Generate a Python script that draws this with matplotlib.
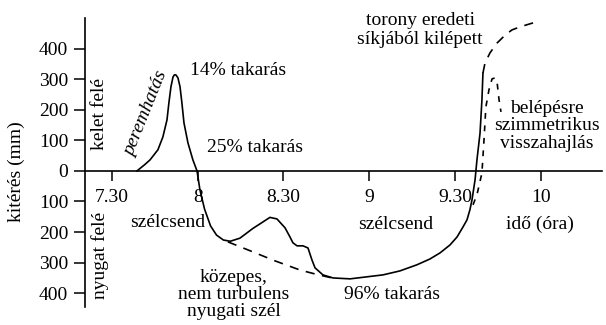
import numpy as np
import matplotlib
matplotlib.use("Agg")
import matplotlib.pyplot as plt
from matplotlib.ticker import FixedLocator, FixedFormatter

plt.rcParams["font.family"] = ["Liberation Serif", "DejaVu Serif"]
plt.rcParams["font.size"] = 14

# tower deflection, time in decimal hours, deflection in mm (+ east, - west)
main_t = [7.646, 7.690, 7.722, 7.768, 7.797, 7.821, 7.832, 7.844, 7.856, 7.864, 7.873,
          7.885, 7.897, 7.908, 7.920, 7.943, 7.972, 7.996, 8.013, 8.040, 8.075,
          8.110, 8.150, 8.190, 8.246, 8.322, 8.380, 8.421, 8.462, 8.509, 8.538,
          8.555, 8.579, 8.614, 8.643, 8.666, 8.684, 8.730, 8.789, 8.888, 9.080,
          9.179, 9.278, 9.354, 9.413, 9.471, 9.512, 9.547, 9.570, 9.587, 9.599,
          9.617, 9.628, 9.646, 9.657, 9.663]
main_mm = [0, 20, 36, 69, 111, 167, 222, 275, 307, 314, 314,
           304, 275, 222, 157, 92, 36, 0, -62, -125, -180,
           -210, -226, -230, -220, -188, -167, -152, -157, -186, -216,
           -235, -245, -245, -252, -291, -317, -340, -350, -353, -340,
           -327, -307, -288, -268, -242, -216, -183, -160, -127, -95,
           -29, 36, 124, 232, 320]

# expected path under steady westerly wind
wind_t = [8.176, 8.305, 8.450, 8.596, 8.684, 8.783]
wind_mm = [-232, -261, -294, -324, -337, -350]

# tower leaving its original plane
plane_t = [9.663, 9.675, 9.704, 9.745, 9.792, 9.832, 9.879, 9.955]
plane_mm = [320, 353, 386, 418, 444, 461, 471, 484]

# symmetric bending back after second contact
back_t = [9.605, 9.628, 9.657, 9.669, 9.680, 9.698, 9.716, 9.733, 9.745, 9.757, 9.768]
back_mm = [-111, -78, -7, 101, 209, 265, 301, 304, 291, 232, 193]

x_ticks = [7.5, 8.0, 8.5, 9.0, 9.5, 10.0]
x_labels = ["7.30", "8", "8.30", "9", "9.30", "10"]
y_ticks = [400, 300, 200, 100, 0, -100, -200, -300, -400]
y_labels = ["400", "300", "200", "100", "0", "100", "200", "300", "400"]

fig = plt.figure(figsize=(6.06, 3.25), dpi=100)
ax = fig.add_axes([85 / 606, 18 / 325, 517 / 606, 289 / 325])
ax.set_xlim(7.343, 10.357)
ax.set_ylim(-445, 500)

for side in ("top", "right"):
    ax.spines[side].set_visible(False)
ax.spines["bottom"].set_position(("data", 0))
ax.spines["left"].set_linewidth(1.2)
ax.spines["bottom"].set_linewidth(1.2)

ax.xaxis.set_major_locator(FixedLocator(x_ticks))
ax.xaxis.set_major_formatter(FixedFormatter(x_labels))
ax.yaxis.set_major_locator(FixedLocator(y_ticks))
ax.yaxis.set_major_formatter(FixedFormatter(y_labels))
ax.tick_params(axis="x", direction="out", length=7, width=1.1, pad=6, labelsize=14)
ax.tick_params(axis="y", direction="out", length=8, width=1.1, pad=4, labelsize=14)

lw = 1.2
dash = (5.5, 4.5)
ax.plot(main_t, main_mm, color="black", lw=lw, solid_joinstyle="round")
ax.plot(wind_t, wind_mm, color="black", lw=lw, dashes=dash)
ax.plot(plane_t, plane_mm, color="black", lw=lw, dashes=dash)
ax.plot(back_t, back_mm, color="black", lw=lw, dashes=(3.5, 4))

# annotations
ax.text(7.955, 327, "14% takarás", ha="left", va="center")
ax.text(8.054, 78, "25% takarás", ha="left", va="center")
ax.text(7.698, 186, "peremhatás", ha="center", va="center", rotation=68, style="italic")
ax.text(7.43, 186, "kelet felé", ha="center", va="center", rotation=90)
ax.text(7.43, -278, "nyugat felé", ha="center", va="center", rotation=90)
ax.text(7.827, -170, "szélcsend", ha="center", va="center")
ax.text(8.211, -405, "közepes,\nnem turbulens\nnyugati szél", ha="center", va="center",
        linespacing=1.0)
ax.text(9.156, -176, "szélcsend", ha="center", va="center")
ax.text(9.996, -176, "idő (óra)", ha="center", va="center")
ax.text(9.133, -405, "96% takarás", ha="center", va="center")
ax.text(9.296, 461, "torony eredeti\nsíkjából kilépett", ha="center", va="center",
        linespacing=1.2)
ax.text(10.036, 147, "belépésre\nszimmetrikus\nvisszahajlás", ha="center", va="center",
        linespacing=1.05)
fig.text(16 / 606, 1 - 172 / 325, "kitérés (mm)", ha="center", va="center", rotation=90,
         fontsize=14)

fig.savefig("out.png", dpi=100)
